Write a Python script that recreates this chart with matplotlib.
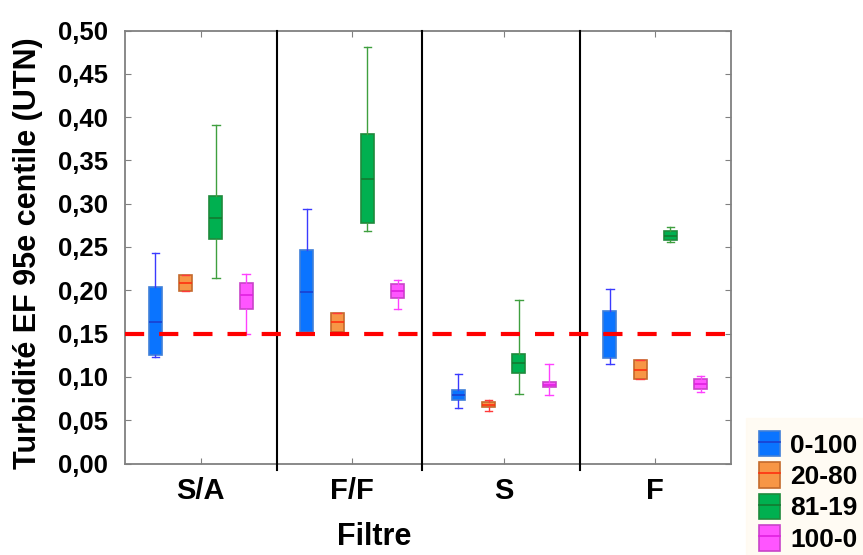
import matplotlib
matplotlib.use('Agg')
import matplotlib.pyplot as plt
from matplotlib.patches import Patch
from matplotlib.lines import Line2D
from matplotlib.legend_handler import HandlerTuple
from matplotlib.ticker import MultipleLocator, FuncFormatter

plt.rcParams['font.family'] = ['Liberation Sans', 'DejaVu Sans']
plt.rcParams['font.weight'] = 'bold'

##### DATA #####
filtres = ['S/A', 'F/F', 'S', 'F']
series = ['0-100', '20-80', '81-19', '100-0']

# (whislo, q1, med, q3, whishi) per filtre
stats_0_100 = [(0.123, 0.125, 0.163, 0.204, 0.243),
               (0.150, 0.152, 0.198, 0.247, 0.294),
               (0.064, 0.073, 0.079, 0.085, 0.103),
               (0.115, 0.122, 0.150, 0.176, 0.202)]
stats_20_80 = [(0.199, 0.199, 0.208, 0.218, 0.218),
               (0.152, 0.152, 0.163, 0.174, 0.174),
               (0.061, 0.065, 0.068, 0.071, 0.073),
               (0.097, 0.097, 0.108, 0.119, 0.119)]
stats_81_19 = [(0.214, 0.259, 0.284, 0.309, 0.391),
               (0.269, 0.278, 0.329, 0.380, 0.481),
               (0.080, 0.105, 0.116, 0.127, 0.189),
               (0.256, 0.258, 0.263, 0.269, 0.273)]
stats_100_0 = [(0.150, 0.178, 0.194, 0.209, 0.219),
               (0.178, 0.191, 0.199, 0.207, 0.212),
               (0.079, 0.088, 0.091, 0.094, 0.115),
               (0.082, 0.086, 0.092, 0.098, 0.101)]
all_stats = [stats_0_100, stats_20_80, stats_81_19, stats_100_0]

seuil = 0.15
separateurs = [1.5, 2.46, 3.5]

# styling per series: fill, edge, median, whisker
styles = [('#0a74ff', '#3f7fd8', '#1b3fd0', '#3a3aff'),
          ('#f79646', '#c46a2c', '#ff3010', '#ff3a3a'),
          ('#00b050', '#1f8a3c', '#137a30', '#3f9f3f'),
          ('#ff55ff', '#c844c8', '#e020e0', '#ff40ff')]
offsets = [-0.3, -0.1, 0.1, 0.3]

##### PLOT #####
fig = plt.figure(figsize=(8.63, 5.55), dpi=100)
ax = fig.add_axes([125/863, 1-463.5/555, (731-125)/863, (463.5-30.5)/555])

for i, st in enumerate(all_stats):
    fc, ec, mc, wc = styles[i]
    bxp_stats = []
    for s in st:
        bxp_stats.append({'whislo': s[0], 'q1': s[1], 'med': s[2],
                          'q3': s[3], 'whishi': s[4], 'fliers': []})
    pos = [g + 1 + offsets[i] for g in range(len(filtres))]
    ax.bxp(bxp_stats, positions=pos, widths=0.085, patch_artist=True,
           showfliers=False, manage_ticks=False,
           boxprops=dict(facecolor=fc, edgecolor=ec, linewidth=1.2),
           medianprops=dict(color=mc, linewidth=1.2),
           whiskerprops=dict(color=wc, linewidth=1.0),
           capprops=dict(color=wc, linewidth=1.0),
           capwidths=0.05)

# threshold line
ax.axhline(seuil, color='#ff0000', linewidth=3.0, linestyle=(0, (4.6, 3.6)), zorder=5)

# group separators
for xs in separateurs:
    ax.axvline(xs, ymin=-0.015, ymax=1, color='black', linewidth=1.5, clip_on=False, zorder=4)

ax.set_xlim(0.5, 4.5)
ax.set_ylim(0, 0.5)
ax.set_xticks(range(1, len(filtres) + 1))
ax.set_xticklabels(filtres)
ax.yaxis.set_major_locator(MultipleLocator(0.05))
ax.yaxis.set_major_formatter(FuncFormatter(lambda v, p: ('%.2f' % v).replace('.', ',')))
ax.tick_params(axis='both', direction='in', length=4, color='#808080',
               top=True, right=True)
ax.tick_params(axis='x', labelsize=21, pad=10)
ax.tick_params(axis='y', labelsize=18.5, pad=12)
for lab in ax.get_xticklabels() + ax.get_yticklabels():
    lab.set_fontweight('bold')
for sp in ax.spines.values():
    sp.set_color('#808080')
    sp.set_linewidth(1.3)

fig.text(374/863, 1-537/555, 'Filtre', fontsize=22, fontweight='bold', ha='center', va='center')
fig.text(28/863, 1-253/555, 'Turbidité EF 95e centile (UTN)', fontsize=22, fontweight='bold',
         ha='center', va='center', rotation=90)

# legend
handles = []
for fc, ec, mc, wc in styles:
    handles.append((Patch(facecolor=fc, edgecolor=ec, linewidth=1.2),
                    Line2D([], [], color=mc, linewidth=1.2)))
leg = fig.legend(handles, series, loc='lower right', bbox_to_anchor=(1.0 + 8/863, -10/555),
                 handler_map={tuple: HandlerTuple(ndivide=1)},
                 prop={'size': 19, 'weight': 'bold'}, frameon=True, fancybox=False,
                 handlelength=0.8, handleheight=1.1, handletextpad=0.4,
                 labelspacing=0.18, borderpad=0.5, borderaxespad=0.0)
leg.get_frame().set_facecolor('#fffaf0')
leg.get_frame().set_edgecolor('#fffaf0')

plt.savefig('out.png', dpi=100)
